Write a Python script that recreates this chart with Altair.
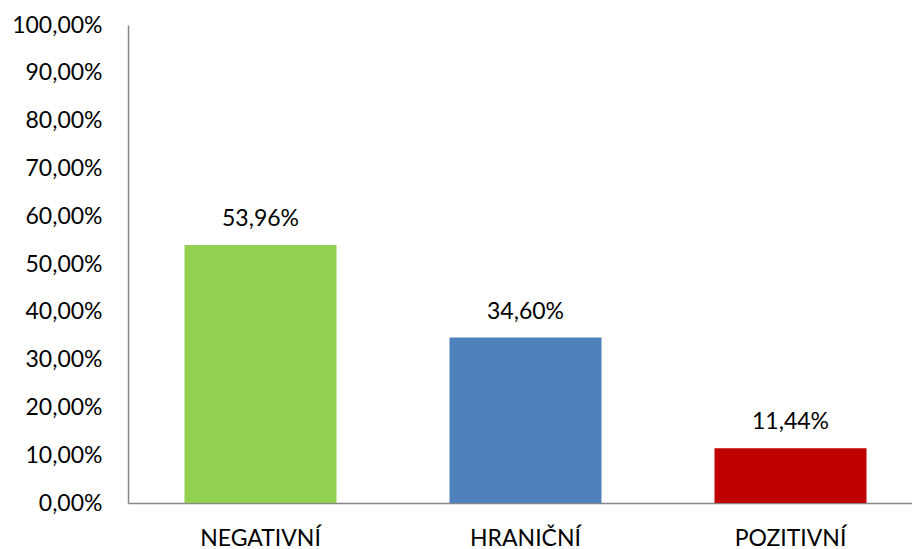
import altair as alt
import pandas as pd

categories = ["NEGATIVNÍ", "HRANIČNÍ", "POZITIVNÍ"]
values = [53.96, 34.60, 11.44]
colors = ["#92D050", "#4F81BD", "#C00000"]
y_ticks = [0, 10, 20, 30, 40, 50, 60, 70, 80, 90, 100]

df = pd.DataFrame({"kategorie": categories, "hodnota": values})

FONT = "Lato"
FS = 23

x_enc = alt.X(
    "kategorie:N",
    sort=categories,
    scale=alt.Scale(range=[0, 795], paddingInner=0.4264, paddingOuter=0.2132),
    axis=alt.Axis(
        title=None,
        labelAngle=0,
        ticks=False,
        tickSize=0,
        labelPadding=42,
        labelBaseline="alphabetic",
        labelFont=FONT,
        labelFontSize=FS,
        labelColor="#000000",
        domainColor="#868686",
        domainWidth=1.5,
        grid=False,
    ),
)

y_enc = alt.Y(
    "hodnota:Q",
    scale=alt.Scale(domain=[0, 100], nice=False),
    axis=alt.Axis(
        title=None,
        values=y_ticks,
        labelExpr="replace(format(datum.value, '.2f'), '.', ',') + '%'",
        ticks=False,
        tickSize=0,
        labelPadding=26,
        labelFont=FONT,
        labelFontSize=FS,
        labelColor="#000000",
        domainColor="#868686",
        domainWidth=1.5,
        grid=False,
    ),
)

bars = alt.Chart(df).mark_bar().encode(
    x=x_enc,
    y=y_enc,
    color=alt.Color("kategorie:N", scale=alt.Scale(domain=categories, range=colors), legend=None),
)

labels = alt.Chart(df).transform_calculate(
    txt="replace(format(datum.hodnota, '.2f'), '.', ',') + '%'"
).mark_text(
    font=FONT, fontSize=FS, color="#000000", baseline="alphabetic", dy=-19
).encode(
    x=alt.X("kategorie:N", sort=categories),
    y=alt.Y("hodnota:Q"),
    text="txt:N",
)

chart = (
    alt.layer(bars, labels)
    .properties(
        width=784,
        height=478,
        autosize=alt.AutoSizeParams(type="none"),
        padding={"left": 128, "top": 25, "right": 0, "bottom": 46},
        background="white",
    )
    .configure_view(stroke=None)
)

chart.save("out.html", embed_options={"renderer": "svg", "actions": False})
